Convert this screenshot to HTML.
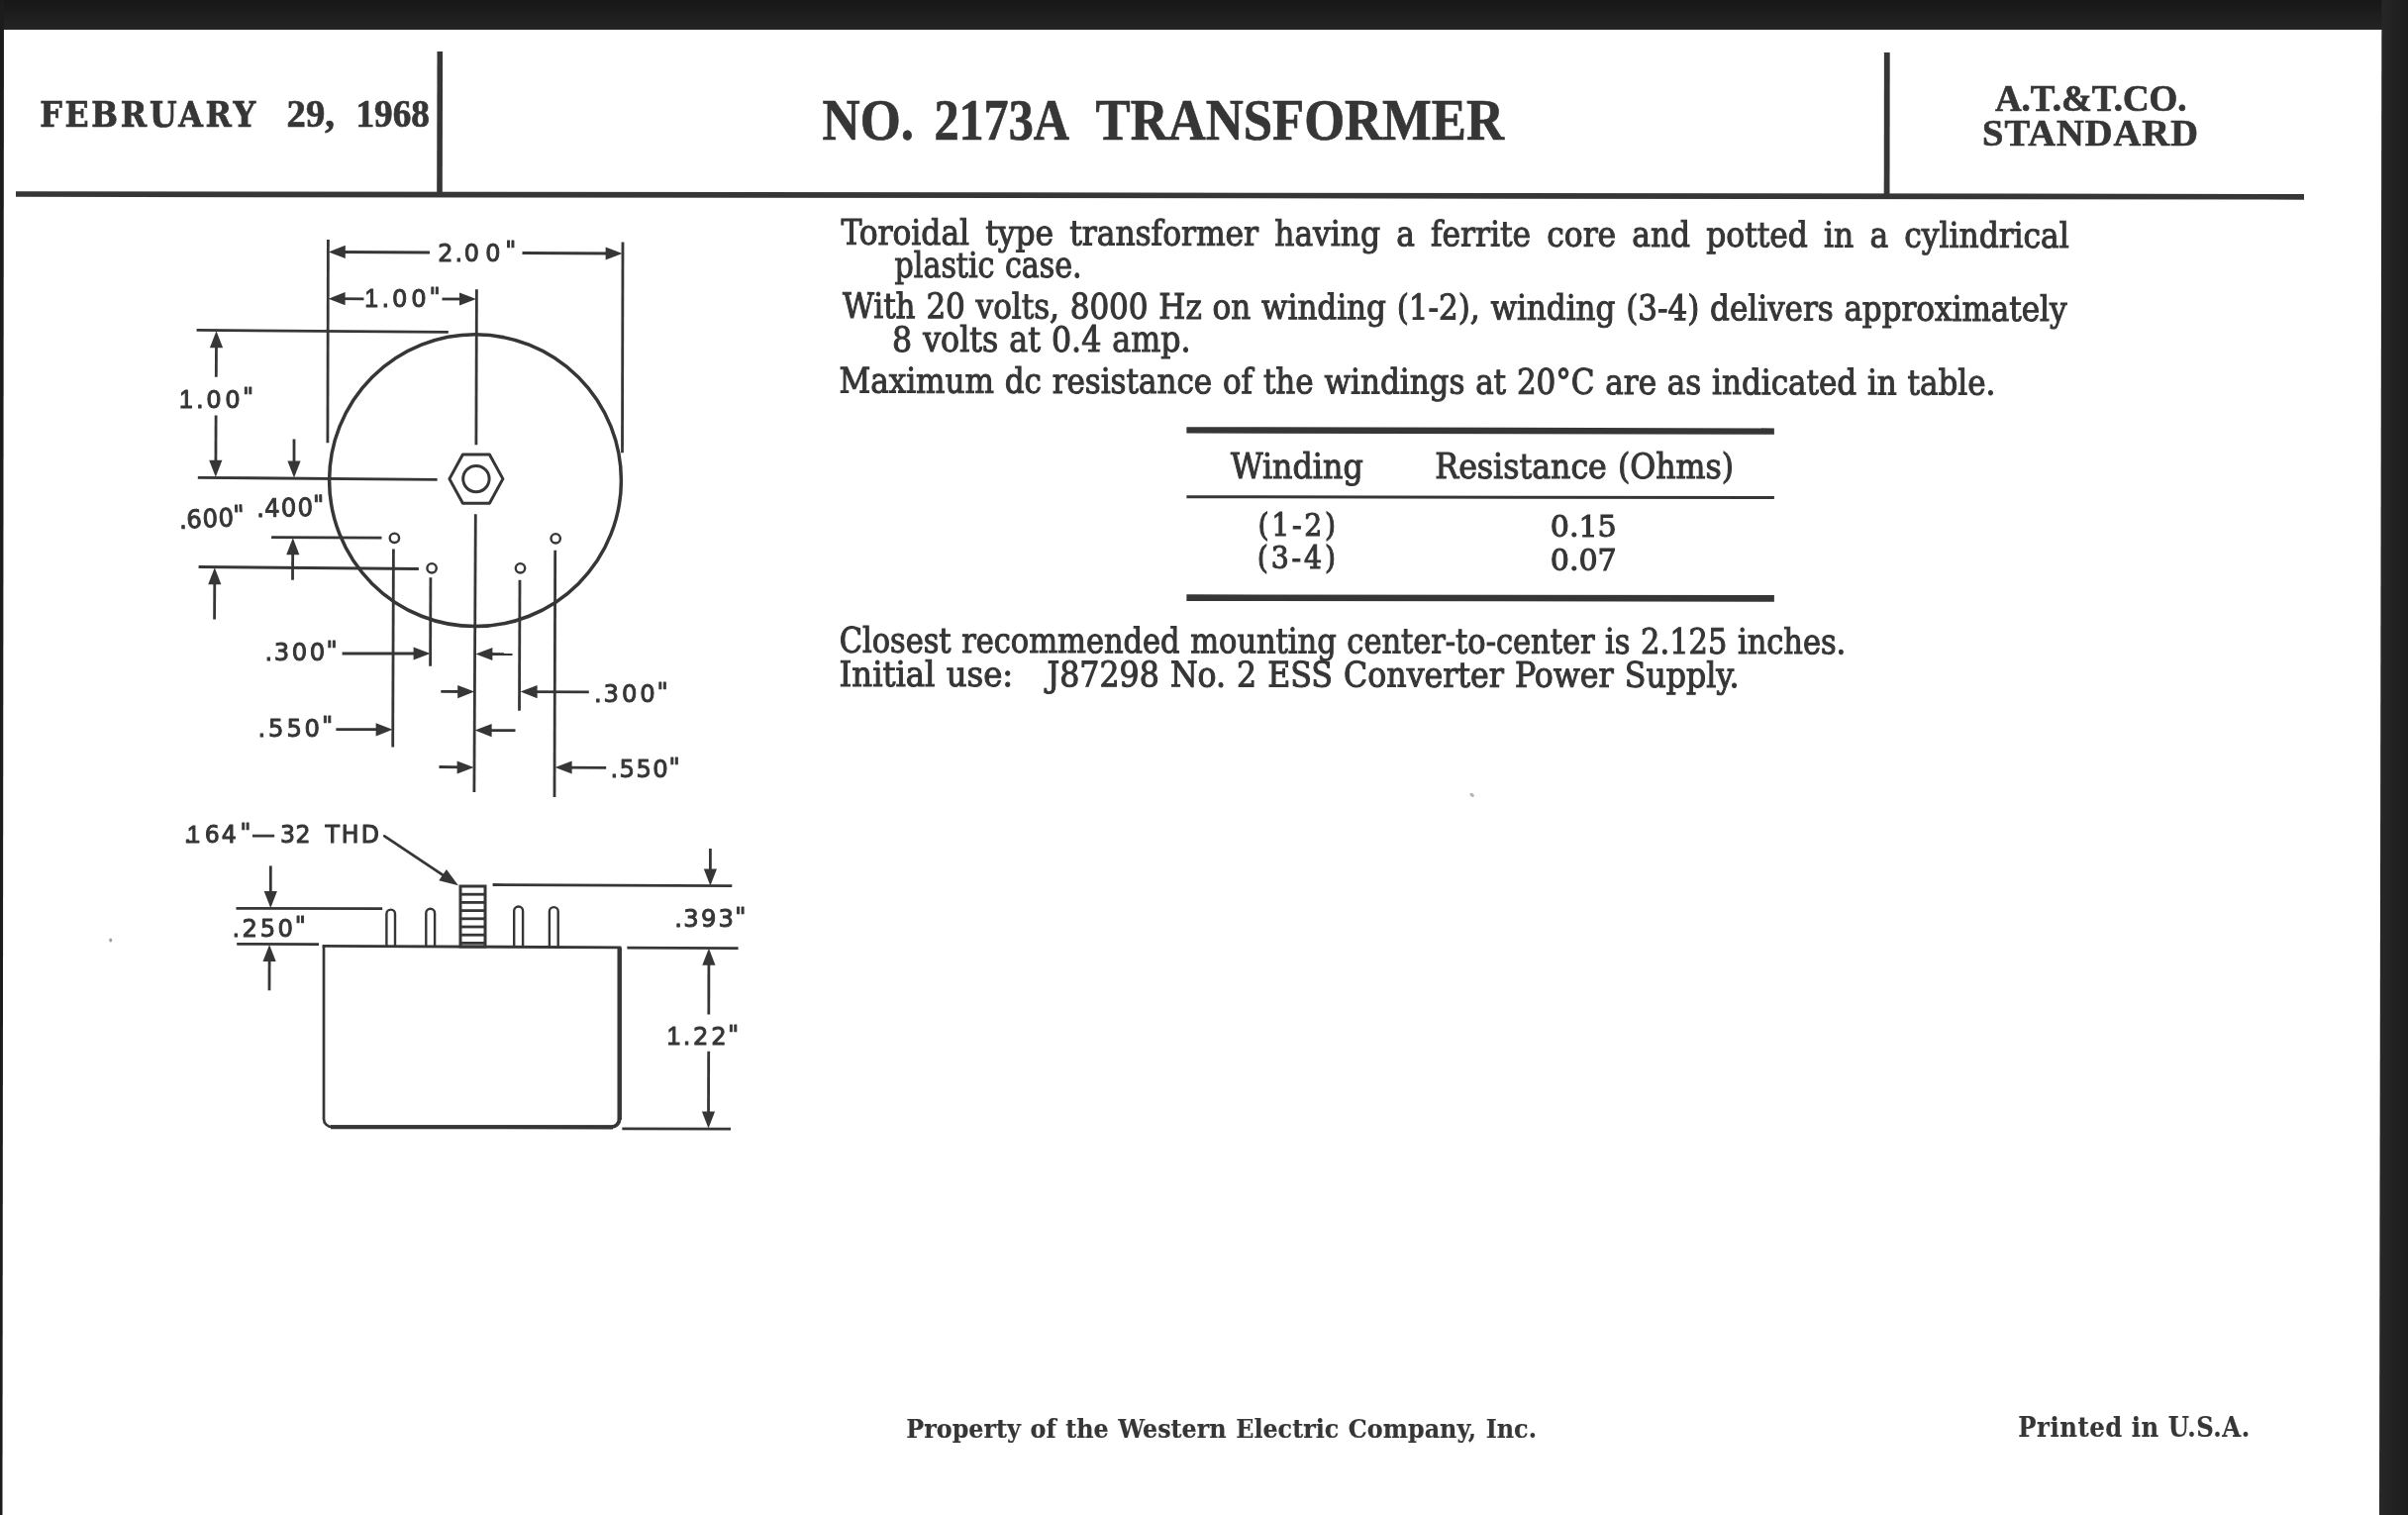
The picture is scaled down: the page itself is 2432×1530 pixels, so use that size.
<!DOCTYPE html>
<html lang="en"><head><meta charset="utf-8"><title>No. 2173A Transformer</title>
<style>
html,body{margin:0;padding:0;background:#fff}
body{width:2432px;height:1530px;overflow:hidden;position:relative}
.band{position:absolute;background:#242424}
#top{left:0;top:0;width:2432px;height:30px;background:linear-gradient(#171717,#242424)}
#right{left:2402px;top:0;width:30px;height:1530px;background:linear-gradient(90deg,#282828,#1c1c1c);clip-path:polygon(3.4px 0,100% 0,100% 100%,1px 100%)}
#left{left:0;top:0;width:4px;height:1530px;background:#1c1c1c;clip-path:polygon(0 0,100% 0,62% 100%,0 100%)}
svg{position:absolute;left:0;top:0;will-change:transform;filter:blur(0.45px)}
text{fill:#363636}
</style></head><body>
<div class="band" id="top"></div><div class="band" id="right"></div><div class="band" id="left"></div>
<svg width="2432" height="1530" viewBox="0 0 2432 1530">
<g fill="none" stroke="#363636">
<path d="M16.0 196.0L2327.0 198.8" stroke-width="5.7" stroke-linecap="butt"/>
<path d="M444.3 52.0L444.0 195.0" stroke-width="5.6" stroke-linecap="butt"/>
<path d="M1905.8 53.0L1905.6 197.0" stroke-width="5.8" stroke-linecap="butt"/>
<path d="M1198.4 434.4L1791.9 435.6" stroke-width="6.4" stroke-linecap="butt"/>
<path d="M1198.4 501.8L1791.9 502.4" stroke-width="3.0" stroke-linecap="butt"/>
<path d="M1198.4 603.6L1791.9 604.4" stroke-width="6.6" stroke-linecap="butt"/>
<path d="M331.4 242.0L330.9 447.3" stroke-width="2.8" stroke-linecap="butt"/>
<path d="M629.0 244.4L628.5 457.2" stroke-width="2.8" stroke-linecap="butt"/>
<path d="M340.0 254.5L434.0 255.0" stroke-width="2.8" stroke-linecap="butt"/>
<path d="M331.8 254.4L348.8 247.8L348.8 261.0Z" fill="#363636" stroke="none"/>
<path d="M527.5 255.5L620.0 256.0" stroke-width="2.8" stroke-linecap="butt"/>
<path d="M628.6 256.0L611.6 262.6L611.6 249.4Z" fill="#363636" stroke="none"/>
<path d="M340.0 301.7L367.5 301.8" stroke-width="2.8" stroke-linecap="butt"/>
<path d="M331.6 301.7L348.6 295.1L348.6 308.3Z" fill="#363636" stroke="none"/>
<path d="M446.5 302.0L472.0 302.0" stroke-width="2.8" stroke-linecap="butt"/>
<path d="M481.0 302.0L464.0 308.6L464.0 295.4Z" fill="#363636" stroke="none"/>
<path d="M481.4 292.3L480.9 449.3" stroke-width="2.8" stroke-linecap="butt"/>
<path d="M480.3 519.2L478.9 800.0" stroke-width="2.8" stroke-linecap="butt"/>
<path d="M198.6 333.4L452.8 335.4" stroke-width="2.8" stroke-linecap="butt"/>
<circle cx="480.0" cy="485.2" r="147.4" stroke-width="3.5"/>
<path d="M218.5 345.0L218.3 380.7" stroke-width="2.8" stroke-linecap="butt"/>
<path d="M218.5 334.2L225.1 351.2L211.9 351.2Z" fill="#363636" stroke="none"/>
<path d="M218.1 419.4L217.9 470.0" stroke-width="2.8" stroke-linecap="butt"/>
<path d="M217.8 481.8L211.2 464.8L224.4 464.8Z" fill="#363636" stroke="none"/>
<path d="M199.8 482.3L441.6 484.3" stroke-width="2.8" stroke-linecap="butt"/>
<path d="M297.0 443.5L297.0 470.0" stroke-width="2.8" stroke-linecap="butt"/>
<path d="M297.0 482.4L290.4 465.4L303.6 465.4Z" fill="#363636" stroke="none"/>
<polygon points="507.9,483.6 494.4,508.2 467.4,508.2 453.9,483.6 467.4,459.0 494.4,459.0" stroke-width="3" stroke-linejoin="round"/>
<circle cx="480.9" cy="483.6" r="13.2" stroke-width="3"/>
<circle cx="398.4" cy="543.3" r="4.7" stroke-width="2.4"/>
<circle cx="561.2" cy="543.8" r="4.7" stroke-width="2.4"/>
<circle cx="436.1" cy="573.8" r="4.7" stroke-width="2.4"/>
<circle cx="525.5" cy="573.8" r="4.7" stroke-width="2.4"/>
<path d="M274.1 542.6L385.5 543.2" stroke-width="2.8" stroke-linecap="butt"/>
<path d="M200.6 572.5L422.9 574.5" stroke-width="2.8" stroke-linecap="butt"/>
<path d="M295.7 555.0L295.5 585.7" stroke-width="2.8" stroke-linecap="butt"/>
<path d="M295.8 543.2L302.4 560.2L289.2 560.2Z" fill="#363636" stroke="none"/>
<path d="M216.8 585.0L216.6 625.6" stroke-width="2.8" stroke-linecap="butt"/>
<path d="M216.8 573.2L223.4 590.2L210.2 590.2Z" fill="#363636" stroke="none"/>
<path d="M397.4 554.6L396.7 754.6" stroke-width="2.8" stroke-linecap="butt"/>
<path d="M434.9 583.2L434.6 672.8" stroke-width="2.8" stroke-linecap="butt"/>
<path d="M525.0 585.7L524.5 717.7" stroke-width="2.8" stroke-linecap="butt"/>
<path d="M560.7 555.8L560.0 805.0" stroke-width="2.8" stroke-linecap="butt"/>
<path d="M345.6 660.0L425.0 660.0" stroke-width="2.8" stroke-linecap="butt"/>
<path d="M434.6 660.0L417.6 666.6L417.6 653.4Z" fill="#363636" stroke="none"/>
<path d="M480.4 660.5L497.4 653.9L497.4 667.1Z" fill="#363636" stroke="none"/>
<path d="M490.0 660.5L517.6 660.6" stroke-width="2.8" stroke-linecap="butt"/>
<path d="M445.3 698.3L470.0 698.5" stroke-width="2.8" stroke-linecap="butt"/>
<path d="M479.2 698.6L462.2 705.2L462.2 692.0Z" fill="#363636" stroke="none"/>
<path d="M525.6 698.6L542.6 692.0L542.6 705.2Z" fill="#363636" stroke="none"/>
<path d="M535.0 698.7L594.8 698.9" stroke-width="2.8" stroke-linecap="butt"/>
<path d="M339.4 736.6L388.0 736.7" stroke-width="2.8" stroke-linecap="butt"/>
<path d="M396.6 736.8L379.6 743.4L379.6 730.2Z" fill="#363636" stroke="none"/>
<path d="M479.6 737.6L496.6 731.0L496.6 744.2Z" fill="#363636" stroke="none"/>
<path d="M489.0 737.6L520.5 737.7" stroke-width="2.8" stroke-linecap="butt"/>
<path d="M443.5 774.5L470.0 774.8" stroke-width="2.8" stroke-linecap="butt"/>
<path d="M478.6 775.0L461.6 781.6L461.6 768.4Z" fill="#363636" stroke="none"/>
<path d="M560.6 775.0L577.6 768.4L577.6 781.6Z" fill="#363636" stroke="none"/>
<path d="M570.0 775.1L612.2 775.3" stroke-width="2.8" stroke-linecap="butt"/>
<path d="M388.3 844.4L455.0 888.9" stroke-width="2.8" stroke-linecap="round"/>
<path d="M462.9 894.2L443.3 889.3L450.9 878.0Z" fill="#363636" stroke="none"/>
<rect x="465" y="895" width="25" height="61" stroke-width="3"/>
<path d="M465.0 903.2L490.0 903.2" stroke-width="2.8" stroke-linecap="butt"/>
<path d="M465.0 911.4L490.0 911.4" stroke-width="2.8" stroke-linecap="butt"/>
<path d="M465.0 919.6L490.0 919.6" stroke-width="2.8" stroke-linecap="butt"/>
<path d="M465.0 927.8L490.0 927.8" stroke-width="2.8" stroke-linecap="butt"/>
<path d="M465.0 936.0L490.0 936.0" stroke-width="2.8" stroke-linecap="butt"/>
<path d="M465.0 944.2L490.0 944.2" stroke-width="2.8" stroke-linecap="butt"/>
<path d="M465.0 952.4L490.0 952.4" stroke-width="2.8" stroke-linecap="butt"/>
<path d="M497.6 893.5L739.3 894.7" stroke-width="2.8" stroke-linecap="butt"/>
<path d="M717.4 857.0L717.4 885.0" stroke-width="2.8" stroke-linecap="butt"/>
<path d="M717.4 894.4L710.8 877.4L724.0 877.4Z" fill="#363636" stroke="none"/>
<path d="M390.4 956V922.9a4.30 4.30 0 0 1 8.60 0V956" stroke-width="2.4"/>
<path d="M430.3 956V922.2a4.40 4.40 0 0 1 8.80 0V956" stroke-width="2.4"/>
<path d="M519.2 956V919.9a4.45 4.45 0 0 1 8.90 0V956" stroke-width="2.4"/>
<path d="M554.9 956V920.5a4.40 4.40 0 0 1 8.80 0V956" stroke-width="2.4"/>
<path d="M327.0 955.4V1130a8 8 0 0 0 8 8" stroke-width="2.7"/>
<path d="M334 1138.1H617.6a8 8 0 0 0 8 -8V956.6" stroke-width="3.8"/>
<path d="M325.6 955.4L627.4 956.8" stroke-width="2.8" stroke-linecap="butt"/>
<path d="M625.8 957.2L625.8 1131.0" stroke-width="4.2" stroke-linecap="butt"/>
<path d="M334.0 1138.2L619.0 1138.4" stroke-width="4.0" stroke-linecap="butt"/>
<path d="M633.4 957.2L745.6 957.6" stroke-width="2.8" stroke-linecap="butt"/>
<path d="M628.4 1139.8L738.0 1140.2" stroke-width="2.8" stroke-linecap="butt"/>
<path d="M715.9 968.0L715.8 1024.4" stroke-width="2.8" stroke-linecap="butt"/>
<path d="M715.9 957.8L722.5 974.8L709.3 974.8Z" fill="#363636" stroke="none"/>
<path d="M715.7 1061.8L715.5 1130.0" stroke-width="2.8" stroke-linecap="butt"/>
<path d="M715.5 1139.6L708.9 1122.6L722.1 1122.6Z" fill="#363636" stroke="none"/>
<path d="M238.5 917.3L386.2 917.6" stroke-width="2.8" stroke-linecap="butt"/>
<path d="M239.2 953.4L322.0 953.7" stroke-width="2.8" stroke-linecap="butt"/>
<path d="M273.3 874.4L273.3 906.0" stroke-width="2.8" stroke-linecap="butt"/>
<path d="M273.3 917.0L266.7 900.0L279.9 900.0Z" fill="#363636" stroke="none"/>
<path d="M272.1 965.0L272.0 1000.3" stroke-width="2.8" stroke-linecap="butt"/>
<path d="M272.1 953.9L278.7 970.9L265.5 970.9Z" fill="#363636" stroke="none"/>
</g>
<ellipse cx="1486.7" cy="802.8" rx="2.4" ry="1.7" transform="rotate(35 1486.7 802.8)" fill="#b4b4b4"/>
<ellipse cx="111.7" cy="949.5" rx="1.5" ry="2.1" fill="#a0a0a0"/>
<g>
<text transform="translate(40.20 127.50)" style="font-family:'DejaVu Serif Condensed','DejaVu Serif','Liberation Serif',serif;font-size:35.2px;font-weight:700;letter-spacing:2.757px;word-spacing:0.000px" stroke="#363636" stroke-width="0.7" textLength="220.62" lengthAdjust="spacingAndGlyphs" xml:space="preserve">FEBRUARY</text>
<text transform="translate(289.62 127.60) scale(0.9889 1)" style="font-family:'Liberation Serif','DejaVu Serif',serif;font-size:39.0px;font-weight:700;letter-spacing:0.000px;word-spacing:0.000px" stroke="#363636" stroke-width="0.7" textLength="48.75" lengthAdjust="spacingAndGlyphs" xml:space="preserve">29,</text>
<text transform="translate(359.44 127.70) scale(0.9541 1)" style="font-family:'Liberation Serif','DejaVu Serif',serif;font-size:39.0px;font-weight:700;letter-spacing:0.000px;word-spacing:0.000px" stroke="#363636" stroke-width="0.7" textLength="78.00" lengthAdjust="spacingAndGlyphs" xml:space="preserve">1968</text>
<text transform="translate(830.59 140.50) scale(0.9051 1)" style="font-family:'Liberation Serif','DejaVu Serif',serif;font-size:58.3px;font-weight:700;letter-spacing:0.000px;word-spacing:0.000px" stroke="#363636" stroke-width="0.7" textLength="102.03" lengthAdjust="spacingAndGlyphs" xml:space="preserve">NO.</text>
<text transform="translate(943.38 140.60) scale(0.8615 1)" style="font-family:'Liberation Serif','DejaVu Serif',serif;font-size:58.3px;font-weight:700;letter-spacing:0.000px;word-spacing:0.000px" stroke="#363636" stroke-width="0.7" textLength="158.70" lengthAdjust="spacingAndGlyphs" xml:space="preserve">2173A</text>
<text transform="translate(1106.60 140.80) scale(0.9029 1)" style="font-family:'Liberation Serif','DejaVu Serif',serif;font-size:58.3px;font-weight:700;letter-spacing:0.000px;word-spacing:0.000px" stroke="#363636" stroke-width="0.7" textLength="456.67" lengthAdjust="spacingAndGlyphs" xml:space="preserve">TRANSFORMER</text>
<text transform="translate(2014.90 112.00) scale(0.9727 1)" style="font-family:'Liberation Serif','DejaVu Serif',serif;font-size:38.0px;font-weight:700;letter-spacing:0.000px;word-spacing:0.000px" stroke="#363636" stroke-width="0.7" textLength="199.16" lengthAdjust="spacingAndGlyphs" xml:space="preserve">A.T.&amp;T.CO.</text>
<text transform="translate(2002.00 146.80)" style="font-family:'Liberation Serif','DejaVu Serif',serif;font-size:38.4px;font-weight:700;letter-spacing:1.057px;word-spacing:0.000px" stroke="#363636" stroke-width="0.7" textLength="218.92" lengthAdjust="spacingAndGlyphs" xml:space="preserve">STANDARD</text>
<text transform="translate(849.60 246.80) rotate(0.148) scale(0.9850 1)" style="font-family:'DejaVu Serif Condensed','DejaVu Serif','Liberation Serif',serif;font-size:35.3px;font-weight:400;letter-spacing:0.000px;word-spacing:6.389px" stroke="#363636" stroke-width="1.0" textLength="1259.06" lengthAdjust="spacingAndGlyphs" xml:space="preserve">Toroidal type transformer having a ferrite core and potted in a cylindrical</text>
<text transform="translate(903.55 279.80) scale(0.9482 1)" style="font-family:'DejaVu Serif Condensed','DejaVu Serif','Liberation Serif',serif;font-size:35.3px;font-weight:400;letter-spacing:0.000px;word-spacing:1.000px" stroke="#363636" stroke-width="1.0" textLength="199.33" lengthAdjust="spacingAndGlyphs" xml:space="preserve">plastic case.</text>
<text transform="translate(851.00 321.00) rotate(0.148) scale(0.9759 1)" style="font-family:'DejaVu Serif Condensed','DejaVu Serif','Liberation Serif',serif;font-size:35.3px;font-weight:400;letter-spacing:0.000px;word-spacing:1.000px" stroke="#363636" stroke-width="1.0" textLength="1266.98" lengthAdjust="spacingAndGlyphs" xml:space="preserve">With 20 volts, 8000 Hz on winding (1-2), winding (3-4) delivers approximately</text>
<text transform="translate(901.01 355.00) scale(0.9973 1)" style="font-family:'DejaVu Serif Condensed','DejaVu Serif','Liberation Serif',serif;font-size:35.3px;font-weight:400;letter-spacing:0.000px;word-spacing:1.000px" stroke="#363636" stroke-width="1.0" textLength="302.38" lengthAdjust="spacingAndGlyphs" xml:space="preserve">8 volts at 0.4 amp.</text>
<text transform="translate(847.45 396.50) rotate(0.103) scale(0.9762 1)" style="font-family:'DejaVu Serif Condensed','DejaVu Serif','Liberation Serif',serif;font-size:35.3px;font-weight:400;letter-spacing:0.000px;word-spacing:1.000px" stroke="#363636" stroke-width="1.0" textLength="1196.50" lengthAdjust="spacingAndGlyphs" xml:space="preserve">Maximum dc resistance of the windings at 20°C are as indicated in table.</text>
<text transform="translate(1243.00 482.60) scale(0.9985 1)" style="font-family:'DejaVu Serif Condensed','DejaVu Serif','Liberation Serif',serif;font-size:35.3px;font-weight:400;letter-spacing:0.000px;word-spacing:0.000px" stroke="#363636" stroke-width="1.0" textLength="133.89" lengthAdjust="spacingAndGlyphs" xml:space="preserve">Winding</text>
<text transform="translate(1449.31 483.30) scale(0.9966 1)" style="font-family:'DejaVu Serif Condensed','DejaVu Serif','Liberation Serif',serif;font-size:35.3px;font-weight:400;letter-spacing:0.000px;word-spacing:1.000px" stroke="#363636" stroke-width="1.0" textLength="302.89" lengthAdjust="spacingAndGlyphs" xml:space="preserve">Resistance (Ohms)</text>
<text transform="translate(1270.46 540.80) scale(0.9700 1)" style="font-family:'DejaVu Serif Condensed','DejaVu Serif','Liberation Serif',serif;font-size:32.5px;font-weight:400;letter-spacing:2.778px;word-spacing:0.000px" stroke="#363636" stroke-width="1.0" textLength="83.78" lengthAdjust="spacingAndGlyphs" xml:space="preserve">(1-2)</text>
<text transform="translate(1565.73 541.60) scale(1.1345 1)" style="font-family:'DejaVu Serif Condensed','DejaVu Serif','Liberation Serif',serif;font-size:29.5px;font-weight:400;letter-spacing:0.000px;word-spacing:0.000px" stroke="#363636" stroke-width="1.0" textLength="59.08" lengthAdjust="spacingAndGlyphs" xml:space="preserve">0.15</text>
<text transform="translate(1269.66 574.20) scale(0.9700 1)" style="font-family:'DejaVu Serif Condensed','DejaVu Serif','Liberation Serif',serif;font-size:32.5px;font-weight:400;letter-spacing:2.985px;word-spacing:0.000px" stroke="#363636" stroke-width="1.0" textLength="84.83" lengthAdjust="spacingAndGlyphs" xml:space="preserve">(3-4)</text>
<text transform="translate(1565.73 576.00) scale(1.1345 1)" style="font-family:'DejaVu Serif Condensed','DejaVu Serif','Liberation Serif',serif;font-size:29.5px;font-weight:400;letter-spacing:0.000px;word-spacing:0.000px" stroke="#363636" stroke-width="1.0" textLength="59.08" lengthAdjust="spacingAndGlyphs" xml:space="preserve">0.07</text>
<text transform="translate(847.68 658.80) rotate(0.079) scale(0.9591 1)" style="font-family:'DejaVu Serif Condensed','DejaVu Serif','Liberation Serif',serif;font-size:35.3px;font-weight:400;letter-spacing:0.000px;word-spacing:1.000px" stroke="#363636" stroke-width="1.0" textLength="1059.91" lengthAdjust="spacingAndGlyphs" xml:space="preserve">Closest recommended mounting center-to-center is 2.125 inches.</text>
<text transform="translate(847.56 692.90) rotate(0.067) scale(1.0186 1)" style="font-family:'DejaVu Serif Condensed','DejaVu Serif','Liberation Serif',serif;font-size:35.3px;font-weight:400;letter-spacing:0.000px;word-spacing:1.000px" stroke="#363636" stroke-width="1.0" textLength="172.45" lengthAdjust="spacingAndGlyphs" xml:space="preserve">Initial use:</text>
<text transform="translate(1057.59 693.20) rotate(0.066) scale(0.9959 1)" style="font-family:'DejaVu Serif Condensed','DejaVu Serif','Liberation Serif',serif;font-size:35.3px;font-weight:400;letter-spacing:0.000px;word-spacing:1.000px" stroke="#363636" stroke-width="1.0" textLength="701.88" lengthAdjust="spacingAndGlyphs" xml:space="preserve">J87298 No. 2 ESS Converter Power Supply.</text>
<text transform="translate(915.30 1452.30)" style="font-family:'DejaVu Serif Condensed','DejaVu Serif','Liberation Serif',serif;font-size:26.5px;font-weight:700;letter-spacing:0.000px;word-spacing:1.283px" stroke="#363636" stroke-width="0.15" textLength="636.64" lengthAdjust="spacingAndGlyphs" xml:space="preserve">Property of the Western Electric Company, Inc.</text>
<text transform="translate(2038.20 1451.00)" style="font-family:'DejaVu Serif Condensed','DejaVu Serif','Liberation Serif',serif;font-size:27.0px;font-weight:700;letter-spacing:0.569px;word-spacing:0.000px" stroke="#363636" stroke-width="0.15" textLength="234.59" lengthAdjust="spacingAndGlyphs" xml:space="preserve">Printed in U.S.A.</text>
</g>
<g>
<text transform="translate(0 263.90) scale(0.9788 1)" x="451.95 469.35 479.03 501.00 521.28" y="0" dy="0.0 0.0 0.0 0.0 -2.5" style="font-family:'DejaVu Sans','Liberation Sans',sans-serif;font-size:24.42px" stroke="#363636" stroke-width="1.0" stroke-linejoin="round" xml:space="preserve">2.00&quot;</text>
<text transform="translate(0 310.40) scale(0.9506 1)" x="387.44 405.63 416.69 436.90 455.97" y="0" dy="0.0 0.0 0.0 0.0 -2.5" style="font-family:'DejaVu Sans','Liberation Sans',sans-serif;font-size:25.51px" stroke="#363636" stroke-width="1.0" stroke-linejoin="round" xml:space="preserve"><tspan style="font-family:'Liberation Sans','DejaVu Sans',sans-serif;font-size:26.02px">1</tspan>.00&quot;</text>
<text transform="translate(0 411.60) scale(0.9506 1)" x="190.41 208.31 219.07 239.00 257.77" y="0" dy="0.0 0.0 0.0 0.0 -2.5" style="font-family:'DejaVu Sans','Liberation Sans',sans-serif;font-size:25.51px" stroke="#363636" stroke-width="1.0" stroke-linejoin="round" xml:space="preserve"><tspan style="font-family:'Liberation Sans','DejaVu Sans',sans-serif;font-size:26.02px">1</tspan>.00&quot;</text>
<text transform="rotate(-2.8 182.9 533.9) translate(0 533.90) scale(0.9506 1)" x="190.78 198.61 215.59 232.57 248.41" y="0" dy="0.0 0.0 0.0 0.0 -2.5" style="font-family:'DejaVu Sans','Liberation Sans',sans-serif;font-size:25.51px" stroke="#363636" stroke-width="1.0" stroke-linejoin="round" xml:space="preserve">.600&quot;</text>
<text transform="rotate(-1.0 260.9 522.0) translate(0 522.00) scale(0.9506 1)" x="272.84 281.22 298.75 316.29 332.68" y="0" dy="0.0 0.0 0.0 0.0 -2.5" style="font-family:'DejaVu Sans','Liberation Sans',sans-serif;font-size:25.51px" stroke="#363636" stroke-width="1.0" stroke-linejoin="round" xml:space="preserve">.400&quot;</text>
<text transform="translate(0 667.20) scale(0.9506 1)" x="281.36 291.11 310.01 328.91 346.67" y="0" dy="0.0 0.0 0.0 0.0 -2.5" style="font-family:'DejaVu Sans','Liberation Sans',sans-serif;font-size:25.51px" stroke="#363636" stroke-width="1.0" stroke-linejoin="round" xml:space="preserve">.300&quot;</text>
<text transform="translate(0 709.00) scale(0.9506 1)" x="631.15 641.26 660.53 679.80 697.93" y="0" dy="0.0 0.0 0.0 0.0 -2.5" style="font-family:'DejaVu Sans','Liberation Sans',sans-serif;font-size:25.51px" stroke="#363636" stroke-width="1.0" stroke-linejoin="round" xml:space="preserve">.300&quot;</text>
<text transform="translate(0 743.80) scale(0.9506 1)" x="274.10 284.98 304.51 323.54 341.93" y="0" dy="0.0 0.0 0.0 0.0 -2.5" style="font-family:'DejaVu Sans','Liberation Sans',sans-serif;font-size:25.51px" stroke="#363636" stroke-width="1.0" stroke-linejoin="round" xml:space="preserve">.550&quot;</text>
<text transform="translate(0 785.00) scale(0.9506 1)" x="648.51 657.94 676.02 693.61 710.55" y="0" dy="0.0 0.0 0.0 0.0 -2.5" style="font-family:'DejaVu Sans','Liberation Sans',sans-serif;font-size:25.51px" stroke="#363636" stroke-width="1.0" stroke-linejoin="round" xml:space="preserve">.550&quot;</text>
<text transform="translate(0 851.40) scale(0.9732 1)" x="190.93 193.86 212.51 229.89 249.14 261.35 290.71 306.84 311.84 337.45 354.25 374.73" y="0" dy="0.0 0.0 0.0 0.0 -2.5 2.5 0.0 0.0 0.0 0.0 0.0 0.0" style="font-family:'DejaVu Sans','Liberation Sans',sans-serif;font-size:24.28px" stroke="#363636" stroke-width="1.0" stroke-linejoin="round" xml:space="preserve">.<tspan style="font-family:'Liberation Sans','DejaVu Sans',sans-serif;font-size:24.77px">1</tspan>64&quot;—32 THD</text>
<text transform="translate(0 945.90) scale(0.9506 1)" x="246.64 257.18 276.37 295.06 313.11" y="0" dy="0.0 0.0 0.0 0.0 -2.5" style="font-family:'DejaVu Sans','Liberation Sans',sans-serif;font-size:25.51px" stroke="#363636" stroke-width="1.0" stroke-linejoin="round" xml:space="preserve">.250&quot;</text>
<text transform="translate(0 936.00) scale(0.9506 1)" x="716.78 726.19 744.75 763.31 780.72" y="0" dy="0.0 0.0 0.0 0.0 -2.5" style="font-family:'DejaVu Sans','Liberation Sans',sans-serif;font-size:25.51px" stroke="#363636" stroke-width="1.0" stroke-linejoin="round" xml:space="preserve">.393&quot;</text>
<text transform="translate(0 1055.40) scale(0.9506 1)" x="708.41 725.65 736.26 755.53 773.15" y="0" dy="0.0 0.0 0.0 0.0 -2.5" style="font-family:'DejaVu Sans','Liberation Sans',sans-serif;font-size:25.51px" stroke="#363636" stroke-width="1.0" stroke-linejoin="round" xml:space="preserve"><tspan style="font-family:'Liberation Sans','DejaVu Sans',sans-serif;font-size:26.02px">1</tspan>.22&quot;</text>
</g>
</svg>
</body></html>
